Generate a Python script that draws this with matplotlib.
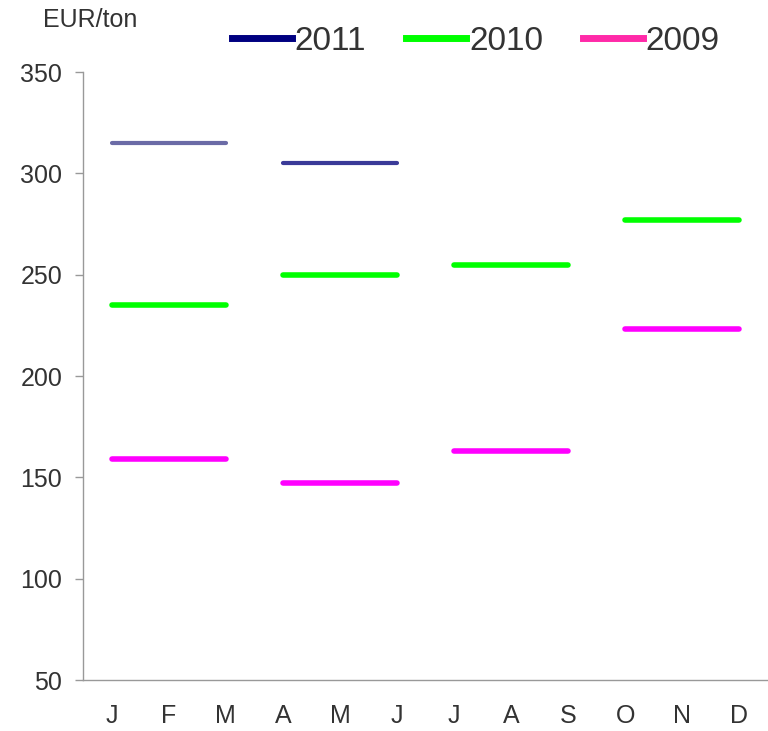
import numpy as np
import matplotlib.pyplot as plt

plt.rcParams['font.family'] = ['Liberation Sans', 'DejaVu Sans']

months = ["J", "F", "M", "A", "M", "J", "J", "A", "S", "O", "N", "D"]
# quarterly averages, EUR/ton
q2011 = [315, 305]
q2010 = [235, 250, 255, 277]
q2009 = [159, 147, 163, 223]

col2011 = ["#6b6ba6", "#3a3a98"]
col2010 = "#00ff00"
col2009 = "#ff00ff"

fig = plt.figure(figsize=(7.68, 7.31), dpi=100)
ax = fig.add_axes([83/768, 51/731, 685/768, 608/731])

x = np.arange(12)
for q, v in enumerate(q2011):
    ax.plot([x[3*q], x[3*q+2]], [v, v], color=col2011[q], lw=3, solid_capstyle="round")
for q, v in enumerate(q2010):
    ax.plot([x[3*q], x[3*q+2]], [v, v], color=col2010, lw=4, solid_capstyle="round")
for q, v in enumerate(q2009):
    ax.plot([x[3*q], x[3*q+2]], [v, v], color=col2009, lw=4, solid_capstyle="round")

ax.set_xlim(-0.5, 11.5)
ax.set_ylim(50, 350)
ax.set_yticks(np.arange(50, 351, 50))
ax.set_xticks(x)
ax.set_xticklabels(months)
ax.tick_params(axis="x", length=0, pad=17, labelsize=18, colors="#333333")
ax.tick_params(axis="y", length=6, width=1, color="#999999", labelsize=18,
               labelcolor="#333333", pad=9)
for s in ["top", "right"]:
    ax.spines[s].set_visible(False)
for s in ["left", "bottom"]:
    ax.spines[s].set_color("#999999")
    ax.spines[s].set_linewidth(1)

fig.text(43/768, 1 - 20/731, "EUR/ton", fontsize=18, color="#333333", va="center")

handles = [plt.Line2D([], [], color="#000080", lw=5),
           plt.Line2D([], [], color="#00ff00", lw=5),
           plt.Line2D([], [], color="#ff2aa8", lw=5)]
fig.legend(handles, ["2011", "2010", "2009"], ncol=3, frameon=False,
           loc="center", bbox_to_anchor=(476/768, 1 - 41/731),
           fontsize=24, handlelength=1.8, handletextpad=0.08, columnspacing=1.2,
           labelcolor="#333333", borderpad=0)

fig.savefig("out.png", dpi=100)
